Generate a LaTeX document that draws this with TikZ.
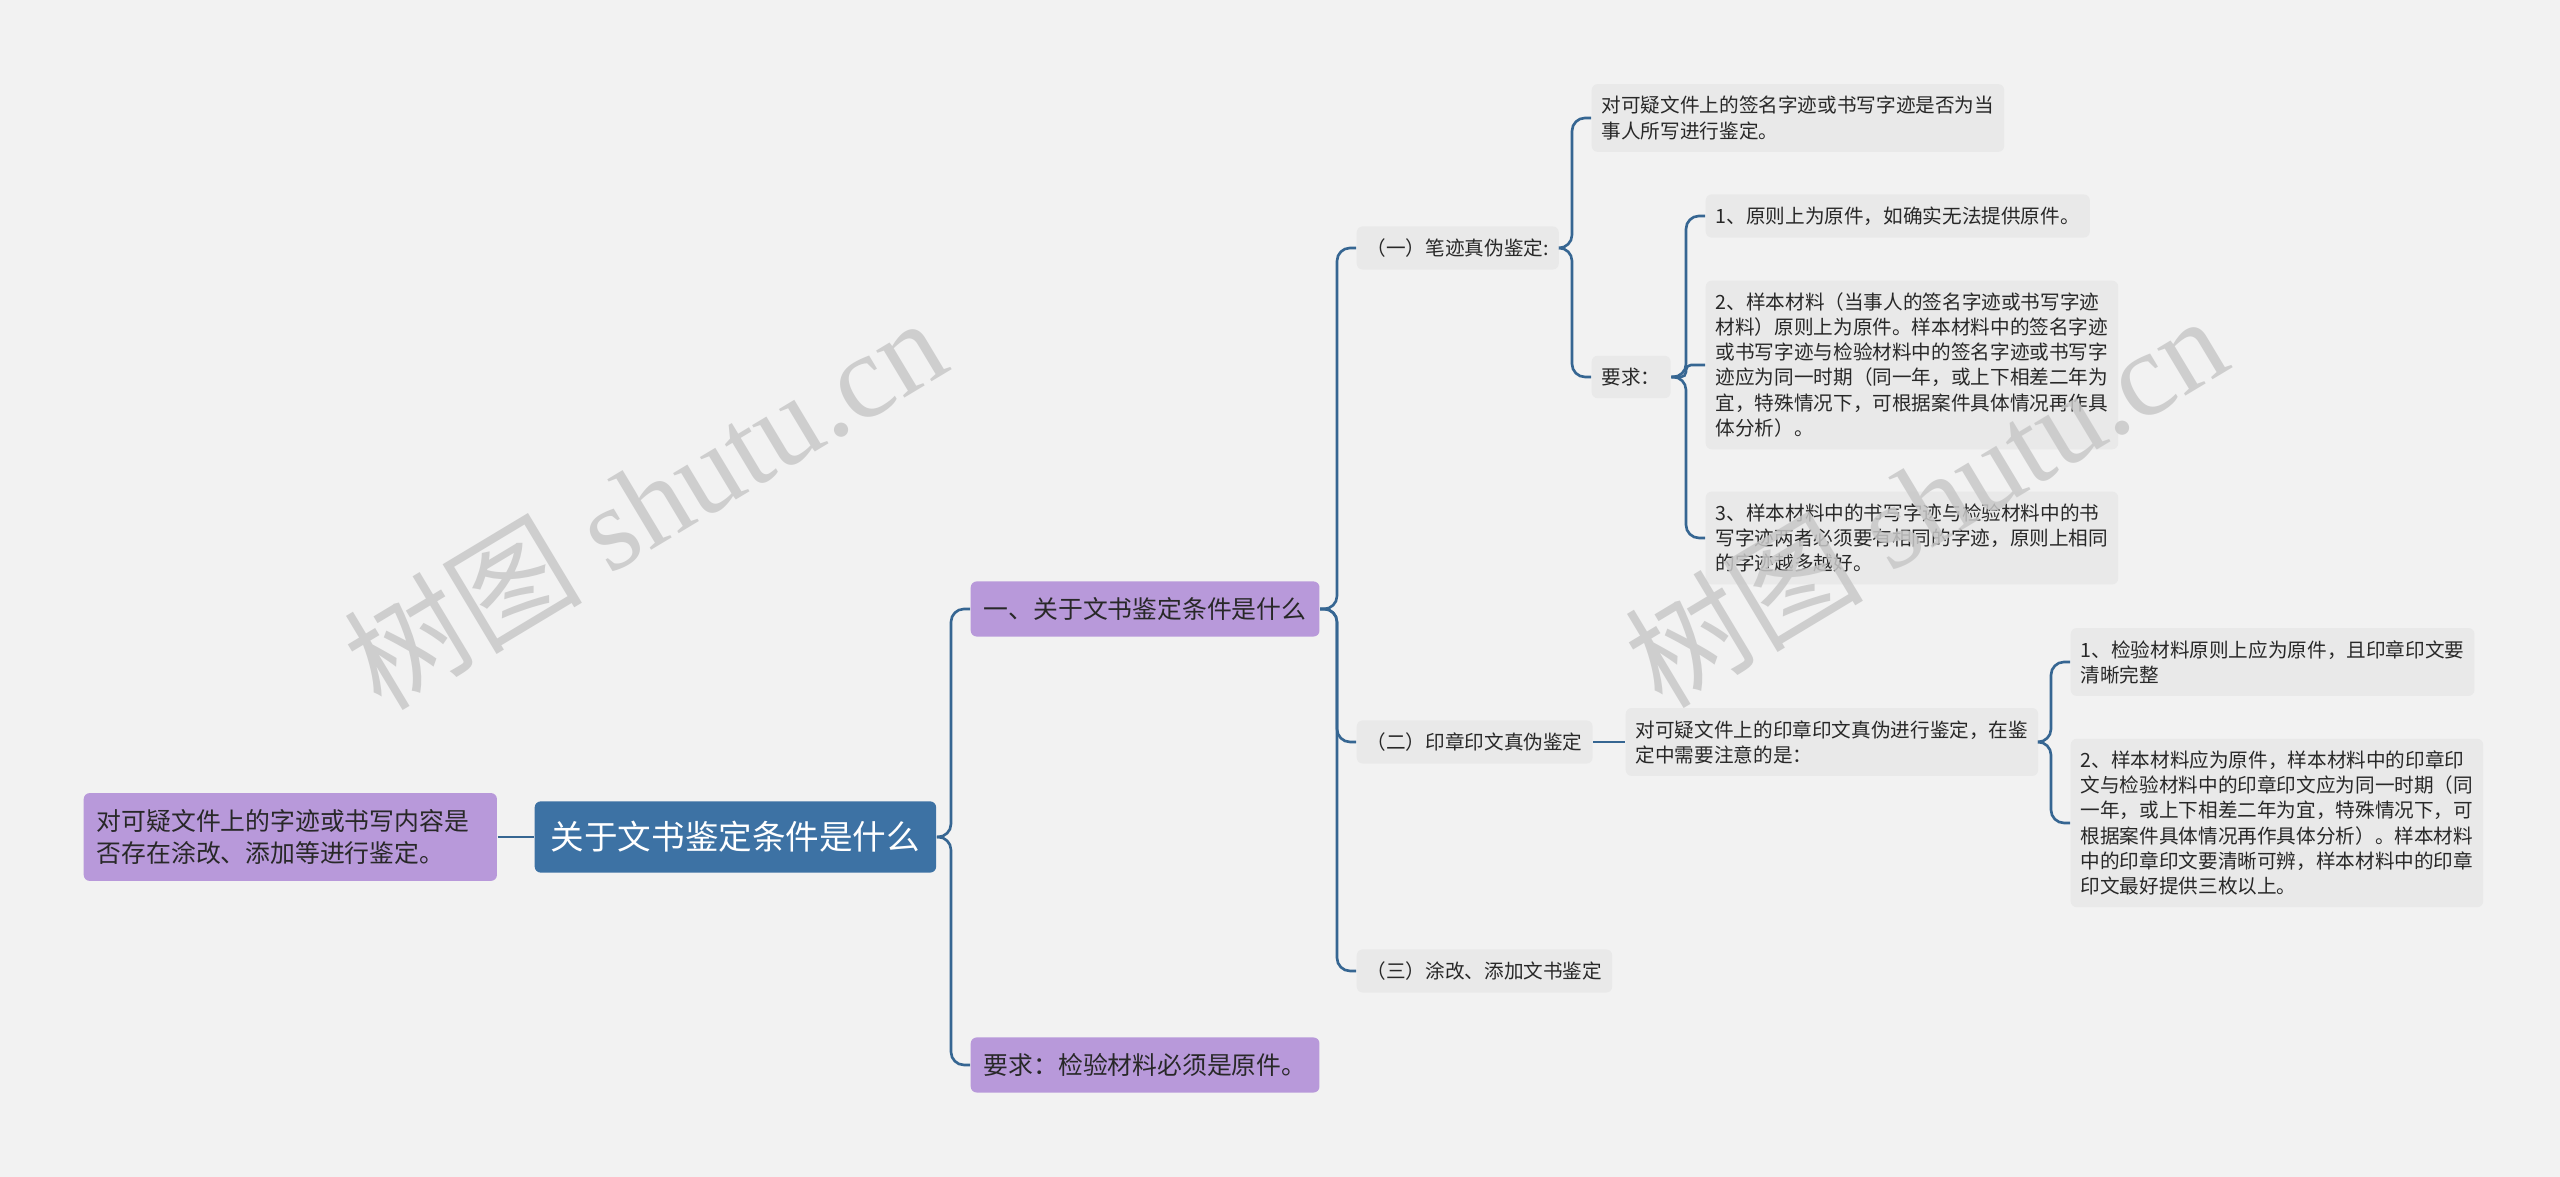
\documentclass[tikz,border=0pt]{standalone}
\usepackage{fontspec}
\setmainfont{Noto Sans CJK SC}
\newfontfamily\wmfont{Liberation Serif}
\usepackage{tikz}
\usetikzlibrary{positioning,calc}

\definecolor{pagebg}{RGB}{242,242,242}
\definecolor{rootblue}{RGB}{61,114,164}
\definecolor{lavender}{RGB}{184,153,218}
\definecolor{leafgray}{RGB}{233,233,233}
\definecolor{linkblue}{RGB}{54,102,146}
\definecolor{inkgray}{RGB}{40,40,40}
\definecolor{wmgray}{RGB}{200,200,200}

\tikzset{
  rootbox/.style={fill=rootblue, text=white, rounded corners=0.06cm,
    font=\fontsize{9.55}{12}\selectfont, inner xsep=0.16cm, inner ysep=0.2cm, anchor=west},
  mainbox/.style={fill=lavender, text=inkgray, rounded corners=0.06cm,
    font=\fontsize{7.06}{9.3}\selectfont, inner xsep=0.13cm, inner ysep=0.16cm,
    align=left, anchor=west},
  leafbox/.style={fill=leafgray, text=inkgray, rounded corners=0.06cm,
    font=\fontsize{5.58}{7.14}\selectfont, inner xsep=0.1cm, inner ysep=0.122cm,
    align=left, anchor=west},
  link/.style={draw=linkblue, line width=0.75pt, rounded corners=0.13cm},
  watermark/.style={text=wmgray, text opacity=0.85, font=\fontsize{34}{40}\selectfont}
}

\begin{document}
\begin{tikzpicture}[x=0.01cm, y=-0.01cm]
\fill[pagebg] (0,0) rectangle (2560,1177);
\useasboundingbox (0,0) rectangle (2560,1177);

% centre and its two sides
\node[rootbox] (root) at (534,837) {关于文书鉴定条件是什么};
\node[mainbox, text width=3.87cm] (tamper) at (83,837)
  {对可疑文件上的字迹或书写内容是\\否存在涂改、添加等进行鉴定。};
\node[mainbox] (cond) at (970,609) {一、关于文书鉴定条件是什么};
\node[mainbox] (orig) at (970,1065) {要求：检验材料必须是原件。};

% second level
\node[leafbox] (hand) at (1356,248) {（一）笔迹真伪鉴定:};
\node[leafbox] (seal) at (1356,742) {（二）印章印文真伪鉴定};
\node[leafbox] (alter) at (1356,971) {（三）涂改、添加文书鉴定};

% handwriting branch
\node[leafbox] (handwho) at (1591,118)
  {对可疑文件上的签名字迹或书写字迹是否为当\\事人所写进行鉴定。};
\node[leafbox] (handreq) at (1591,377) {要求：};
\node[leafbox] (req1) at (1705,216) {1、原则上为原件，如确实无法提供原件。};
\node[leafbox] (req2) at (1705,365)
  {2、样本材料（当事人的签名字迹或书写字迹\\材料）原则上为原件。样本材料中的签名字迹\\或书写字迹与检验材料中的签名字迹或书写字\\迹应为同一时期（同一年，或上下相差二年为\\宜，特殊情况下，可根据案件具体情况再作具\\体分析）。};
\node[leafbox] (req3) at (1705,538)
  {3、样本材料中的书写字迹与检验材料中的书\\写字迹两者必须要有相同的字迹，原则上相同\\的字迹越多越好。};

% seal branch
\node[leafbox] (sealnote) at (1625,742)
  {对可疑文件上的印章印文真伪进行鉴定，在鉴\\定中需要注意的是：};
\node[leafbox] (seal1) at (2070,662)
  {1、检验材料原则上应为原件，且印章印文要\\清晰完整};
\node[leafbox] (seal2) at (2070,823)
  {2、样本材料应为原件，样本材料中的印章印\\文与检验材料中的印章印文应为同一时期（同\\一年，或上下相差二年为宜，特殊情况下，可\\根据案件具体情况再作具体分析）。样本材料\\中的印章印文要清晰可辨，样本材料中的印章\\印文最好提供三枚以上。};

% connectors
\draw[link] (tamper.east) -- (root.west);
\draw[link] (seal.east) -- (sealnote.west);
\foreach \p/\c in {root/cond, root/orig, cond/hand, cond/seal, cond/alter,
    hand/handwho, hand/handreq, handreq/req1, handreq/req3,
    sealnote/seal1, sealnote/seal2} {
  \draw[link] (\p.east) -| ([xshift=-0.19cm]\c.west) -- (\c.west);
}
\draw[link, rounded corners=0.05cm] (handreq.east) -| ([xshift=-0.19cm]req2.west) -- (req2.west);

% watermarks
\node[watermark, rotate=31] (wmleft) at (644,502) {树图 {\wmfont shutu.cn}};
\node[watermark, rotate=31] (wmright) at (1925,500) {树图 {\wmfont shutu.cn}};
\end{tikzpicture}
\end{document}
